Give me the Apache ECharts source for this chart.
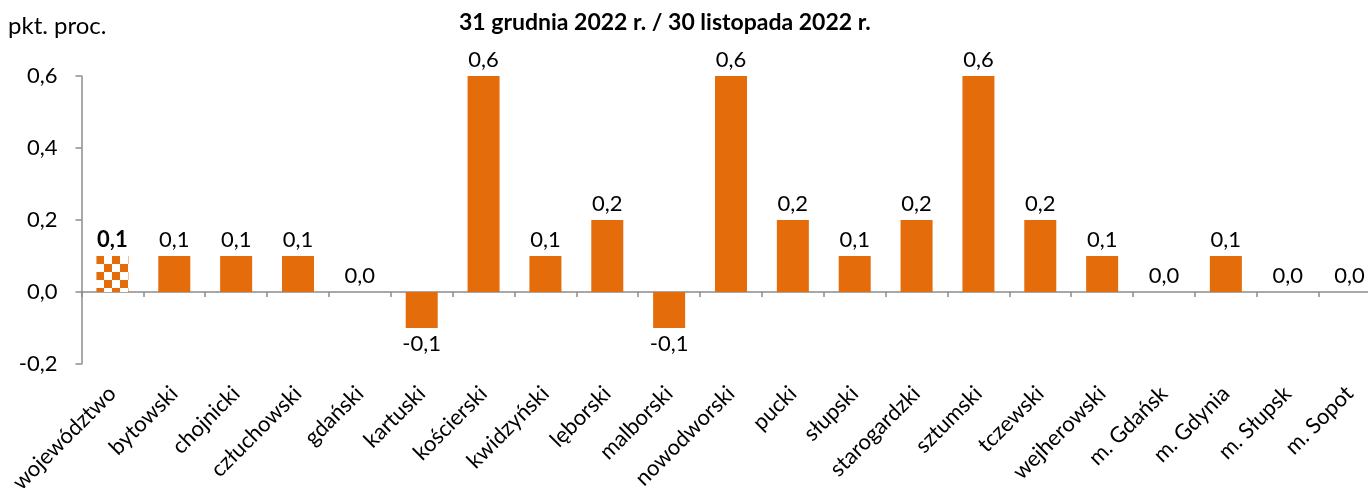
<!DOCTYPE html>
<html>
<head>
<meta charset="utf-8">
<script src="https://cdn.jsdelivr.net/npm/echarts@6/dist/echarts.min.js"></script>
<style>
  html, body { margin: 0; padding: 0; background: #fff; }
  #chart { width: 1368px; height: 488px; }
</style>
</head>
<body>
<div id="chart"></div>
<script>
// dane
const categories = ['województwo', 'bytowski', 'chojnicki', 'człuchowski', 'gdański', 'kartuski',
  'kościerski', 'kwidzyński', 'lęborski', 'malborski', 'nowodworski', 'pucki', 'słupski',
  'starogardzki', 'sztumski', 'tczewski', 'wejherowski', 'm. Gdańsk', 'm. Gdynia', 'm. Słupsk', 'm. Sopot'];
const values = [0.1, 0.1, 0.1, 0.1, 0.0, -0.1, 0.6, 0.1, 0.2, -0.1, 0.6, 0.2, 0.1, 0.2, 0.6, 0.2, 0.1, 0.0, 0.1, 0.0, 0.0];
const yTicks = { min: -0.2, max: 0.6, interval: 0.2 };
const titleText = '31 grudnia 2022 r. / 30 listopada 2022 r.';
const unitText = 'pkt. proc.';

const ORANGE = '#E46C0A';
const AXIS = '#8c8c8c';
const FONT = 'Lato';
const FS = 22;

// szachownica dla województwa
const pat = document.createElement('canvas');
pat.width = 16; pat.height = 16;
const ctx = pat.getContext('2d');
ctx.fillStyle = '#fff'; ctx.fillRect(0, 0, 16, 16);
ctx.fillStyle = ORANGE;
ctx.fillRect(0, 0, 8, 8);
ctx.fillRect(8, 8, 8, 8);

const fmt = v => v.toFixed(1).replace('.', ',');

const seriesData = values.map((v, i) => {
  const item = {
    value: v,
    label: { position: v < 0 ? 'bottom' : 'top' }
  };
  if (i === 0) {
    item.itemStyle = { color: { image: pat, repeat: 'repeat' } };
    item.label.fontWeight = 'bold';
  }
  return item;
});

const chart = echarts.init(document.getElementById('chart'), null, { renderer: 'canvas' });
chart.setOption({
  animation: false,
  textStyle: { fontFamily: FONT },
  title: {
    text: titleText,
    left: 454, top: 6,
    textStyle: { fontFamily: FONT, fontWeight: 'bold', fontSize: 23, color: '#000' }
  },
  graphic: [{
    type: 'text', left: 8, top: 14,
    style: { text: unitText, font: '24px ' + FONT, fill: '#000' }
  }],
  grid: { left: 81.5, top: 76, width: 1299, height: 288, containLabel: false, outerBoundsMode: 'none' },
  xAxis: {
    type: 'category',
    data: categories,
    axisLine: { onZero: true, lineStyle: { color: AXIS, width: 1.5 } },
    axisTick: { show: true, length: 5, lineStyle: { color: AXIS, width: 1.5 } },
    axisLabel: {
      interval: 0, rotate: 45, margin: 26,
      fontSize: FS, color: '#000', fontFamily: FONT
    }
  },
  yAxis: {
    type: 'value',
    min: yTicks.min, max: yTicks.max, interval: yTicks.interval,
    axisLine: { show: true, lineStyle: { color: AXIS, width: 1.5 } },
    axisTick: { show: true, length: 6, lineStyle: { color: AXIS, width: 1.5 } },
    splitLine: { show: false },
    axisLabel: { formatter: fmt, margin: 24, fontSize: FS, color: '#000', fontFamily: FONT }
  },
  series: [{
    type: 'bar',
    data: seriesData,
    barWidth: 32,
    itemStyle: { color: ORANGE },
    label: {
      show: true, distance: 5,
      formatter: p => fmt(p.value),
      fontSize: FS, color: '#000', fontFamily: FONT
    }
  }]
});
</script>
</body>
</html>
